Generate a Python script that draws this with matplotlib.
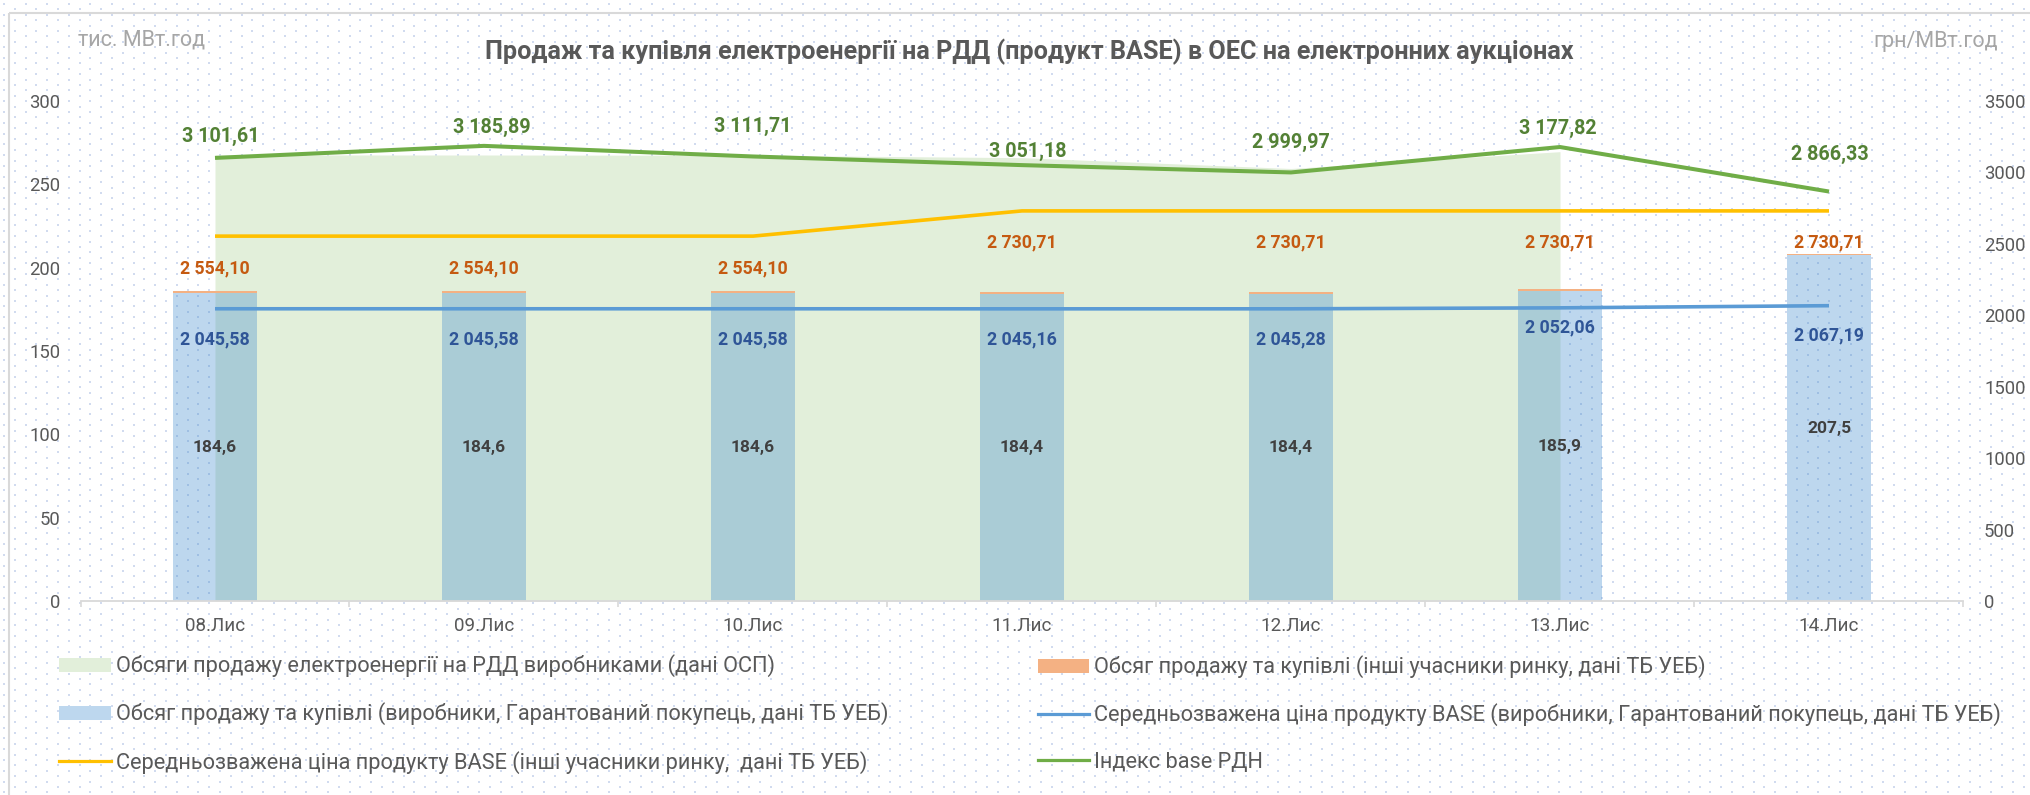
import numpy as np
import matplotlib
matplotlib.use('Agg')
import matplotlib.pyplot as plt
from matplotlib.patches import Patch, Rectangle
from matplotlib.lines import Line2D

plt.rcParams['font.family'] = ['Roboto', 'DejaVu Sans']

# ---------------- data ----------------
categories = ['08.Лис', '09.Лис', '10.Лис', '11.Лис', '12.Лис', '13.Лис', '14.Лис']
osp_volume = [267.6, 267.6, 267.4, 266.0, 259.5, 269.6]          # area, up to 13.Лис
producers_volume = [184.6, 184.6, 184.6, 184.4, 184.4, 185.9, 207.5]
others_volume = [1.3, 1.3, 1.3, 1.2, 1.2, 1.2, 1.0]
price_producers = [2045.58, 2045.58, 2045.58, 2045.16, 2045.28, 2052.06, 2067.19]
price_others = [2554.10, 2554.10, 2554.10, 2730.71, 2730.71, 2730.71, 2730.71]
rdn_index = [3101.61, 3185.89, 3111.71, 3051.18, 2999.97, 3177.82, 2866.33]
left_ticks = [0, 50, 100, 150, 200, 250, 300]
right_ticks = [0, 500, 1000, 1500, 2000, 2500, 3000, 3500]

title = 'Продаж та купівля електроенергії на РДД (продукт BASE) в ОЕС на електронних аукціонах'
legend_labels = [
    'Обсяги продажу електроенергії на РДД виробниками (дані ОСП)',
    'Обсяг продажу та купівлі (виробники, Гарантований покупець, дані ТБ УЕБ)',
    'Середньозважена ціна продукту BASE (інші учасники ринку,  дані ТБ УЕБ)',
    'Обсяг продажу та купівлі (інші учасники ринку, дані ТБ УЕБ)',
    'Середньозважена ціна продукту BASE (виробники, Гарантований покупець, дані ТБ УЕБ)',
    'Індекс base РДН',
]

# ---------------- styles ----------------
W, H = 2031, 795
C_AREA = '#E2EFDA'
C_BAR = (72 / 255, 144 / 255, 208 / 255)
BAR_ALPHA = 0.36
C_ORANGE = '#F4B183'
C_GREEN = '#70AD47'
C_YELLOW = '#FFC000'
C_BLUE = '#5B9BD5'
C_TXT = '#595959'

def fmt_price(v):
    return f"{v:,.2f}".replace(',', ' ').replace('.', ',')

def fmt_vol(v):
    return f"{v:.1f}".replace('.', ',')

fig = plt.figure(figsize=(W / 100, H / 100), dpi=100)
fig.patch.set_facecolor('white')

# dotted background pattern
bg = fig.add_axes([0, 0, 1, 1], zorder=-10)
img = np.ones((H, W, 3))
dot = np.array([0.82, 0.86, 0.94])
step = 10.8
for k, x0 in enumerate(np.arange(3, W, step)):
    xi = int(round(x0))
    for y0 in np.arange(3 + (k % 2) * step / 2, H, step):
        yi = int(round(y0))
        img[yi:yi + 2, xi:xi + 2] = dot
bg.imshow(img, extent=(0, W, H, 0), interpolation='nearest', aspect='auto')
bg.set_xlim(0, W)
bg.set_ylim(H, 0)
bg.axis('off')
bg.add_patch(Rectangle((9, 13), W + 50, H + 50, fill=False, edgecolor='#D9D9D9', lw=1.5))

# main axes
left_px, right_px, top_px, bot_px = 80.5, 1963.5, 101, 601
ax = fig.add_axes([left_px / W, 1 - bot_px / H, (right_px - left_px) / W, (bot_px - top_px) / H])
ax.set_facecolor('none')
x = np.arange(len(categories))

ax.fill_between(x[:len(osp_volume)], osp_volume, 0, color=C_AREA, lw=0, zorder=1)
ax.bar(x, producers_volume, width=0.312, color=C_BAR, alpha=BAR_ALPHA, zorder=2, lw=0)
ax.bar(x, others_volume, bottom=producers_volume, width=0.312, color=C_ORANGE, zorder=3, lw=0)

for xi, v in zip(x, producers_volume):
    ax.text(xi, v / 2, fmt_vol(v), ha='center', va='center', fontsize=12.5,
            fontweight='bold', color='#404040', zorder=5)

ax.set_xlim(-0.5, len(categories) - 0.5)
ax.set_ylim(0, 300)
ax.set_yticks(left_ticks)
ax.set_xticks(x)
ax.set_xticklabels(categories)
ax.set_xticks(np.arange(-0.5, len(categories)), minor=True)
ax.tick_params(axis='x', which='major', length=0, pad=11.5, labelsize=13.6, labelcolor=C_TXT)
ax.tick_params(axis='x', which='minor', length=4, width=1.2, color='#D9D9D9', direction='out')
ax.tick_params(axis='y', length=0, pad=14.5, labelsize=13.3, labelcolor=C_TXT)
for s in ['top', 'left', 'right']:
    ax.spines[s].set_visible(False)
ax.spines['bottom'].set_color('#D9D9D9')
ax.spines['bottom'].set_linewidth(1.3)

ax2 = ax.twinx()
ax2.set_ylim(0, 3500)
ax2.set_yticks(right_ticks)
ax2.tick_params(axis='y', length=0, pad=14.8, labelsize=13.3, labelcolor=C_TXT)
for s in ax2.spines.values():
    s.set_visible(False)

ax2.plot(x, price_others, color=C_YELLOW, lw=2.6, solid_capstyle='butt', zorder=3)
ax2.plot(x, price_producers, color=C_BLUE, lw=2.6, solid_capstyle='butt', zorder=3)
ax2.plot(x, rdn_index, color=C_GREEN, lw=2.9, solid_capstyle='butt', zorder=4)

px2pt = 0.72
green_dx = [6, 8, 0, 6, 0, -2, 1]
green_dy = [21, 18, 30, 14, 30, 19, 37]
blue_dy = [31, 31, 31, 31, 31, 20, 30]
for i, (xi, v) in enumerate(zip(x, price_others)):
    ax2.annotate(fmt_price(v), (xi, v), xytext=(0, -32 * px2pt), textcoords='offset points',
                 ha='center', va='center', fontsize=12.8, fontweight='bold', color='#C55A11')
for i, (xi, v) in enumerate(zip(x, price_producers)):
    ax2.annotate(fmt_price(v), (xi, v), xytext=(0, -blue_dy[i] * px2pt), textcoords='offset points',
                 ha='center', va='center', fontsize=12.8, fontweight='bold', color='#2F5597')
for i, (xi, v) in enumerate(zip(x, rdn_index)):
    ax2.annotate(fmt_price(v), (xi, v), xytext=(green_dx[i] * px2pt, green_dy[i] * px2pt),
                 textcoords='offset points', ha='center', va='center', fontsize=14.2,
                 fontweight='bold', color='#538135')

# titles and units
fig.text(1029 / W, 1 - 52 / H, title, ha='center', va='center', fontsize=18.2,
         fontweight='bold', color=C_TXT)
fig.text(78 / W, 1 - 40 / H, 'тис. МВт.год', ha='left', va='center', fontsize=15.5, color='#A6A6A6')
fig.text(1998 / W, 1 - 42 / H, 'грн/МВт.год', ha='right', va='center', fontsize=15.5, color='#A6A6A6')

# legends
h_area = Patch(facecolor=C_AREA, edgecolor='none')
h_bar = Patch(facecolor='#BDD7EE', edgecolor='none')
h_orange = Patch(facecolor=C_ORANGE, edgecolor='none')
h_yel = Line2D([], [], color=C_YELLOW, lw=2.3)
h_blue = Line2D([], [], color=C_BLUE, lw=2.3)
h_green = Line2D([], [], color=C_GREEN, lw=2.3)

leg_fs = 15.7
leg_kw = dict(frameon=False, fontsize=leg_fs, handlelength=51 / (leg_fs / 0.72),
              handleheight=0.62, handletextpad=5.5 / (leg_fs / 0.72), labelspacing=1.15,
              borderpad=0, borderaxespad=0, loc='center left', labelcolor=C_TXT)
leg1 = fig.legend([h_area, h_bar, h_yel], legend_labels[:3],
                  bbox_to_anchor=(59.5 / W, 1 - 714 / H), **leg_kw)
leg2 = fig.legend([h_orange, h_blue, h_green], legend_labels[3:],
                  bbox_to_anchor=(1037.6 / W, 1 - 714 / H), **leg_kw)

fig.savefig('out.png', dpi=100, facecolor='white')
